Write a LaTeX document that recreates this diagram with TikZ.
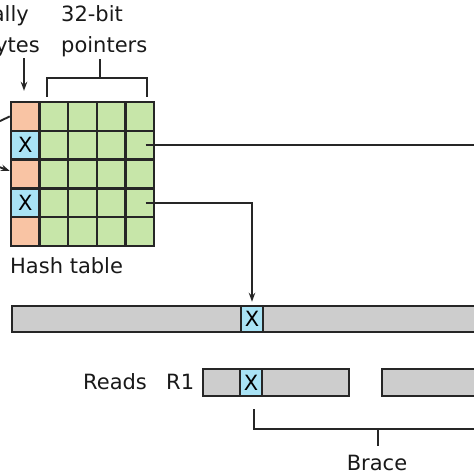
\documentclass[tikz,border=0pt]{standalone}
\usepackage{fontspec}
\setmainfont{DejaVu Sans}
\usetikzlibrary{arrows,arrows.meta,positioning}
\definecolor{keycolor}{HTML}{F9C4A4}
\definecolor{ptrcolor}{HTML}{C7E6A9}
\definecolor{hitcolor}{HTML}{A9E3F5}
\definecolor{readcolor}{HTML}{CDCDCD}
\definecolor{gridline}{HTML}{262626}
\tikzset
{
    cell/.style    = {rectangle, draw=gridline, line width=2.4pt, minimum width=28.6pt, minimum height=28.8pt, inner sep=0pt},
    keycell/.style = {cell, fill=keycolor},
    hitcell/.style = {cell, fill=hitcolor},
    ptrcell/.style = {cell, fill=ptrcolor},
    seqbar/.style  = {rectangle, draw=gridline, line width=2pt, fill=readcolor, minimum height=26.5pt, inner sep=0pt},
    hitbox/.style  = {rectangle, draw=gridline, line width=2pt, fill=hitcolor, minimum width=22pt, minimum height=26.5pt, inner sep=0pt},
    txt/.style     = {inner sep=0pt, text=black!90},
    link/.style    = {line width=1.9pt, draw=gridline},
    arrow/.style   = {link, ->, >={Stealth[length=9pt, width=6.5pt]}}
}

\begin{document}
\begin{tikzpicture}[x=1pt, y=-1pt, font=\fontsize{21}{25}\selectfont]
   \useasboundingbox (0,0) rectangle (474,474);

	 \newcommand\CELLX{28.6}
	 \newcommand\CELLY{28.8}

	 % hash table
	 \node (k1) [keycell] at (25.3, 116.4)                       {};
	 \node (k2) [hitcell] at ([shift=({0, \CELLY})]k1)           {X};
	 \node (k3) [keycell] at ([shift=({0, \CELLY})]k2)           {};
	 \node (k4) [hitcell] at ([shift=({0, \CELLY})]k3)           {X};
	 \node (k5) [keycell] at ([shift=({0, \CELLY})]k4)           {};
	 \foreach \r in {1,...,5}
	    \foreach \c in {1,...,4}
	       \node (p\r\c) [ptrcell] at ([shift=({\c*\CELLX, 0})]k\r) {};

	 \node (ally)  [txt, anchor=base east] at (29, 21)   {ally};
	 \node (ytes)  [txt, anchor=base east] at (40, 52)   {ytes};
	 \node (bits)  [txt, anchor=base west] at (61, 21)   {32-bit};
	 \node (ptrs)  [txt, anchor=base west] at (61, 52)   {pointers};
	 \node (hash)  [txt, anchor=base west] at (10, 273)  {Hash table};

	 % sequences
	 \node (genome) [seqbar, minimum width=478pt] at (251, 319)   {};
	 \node (gx)     [hitbox]                      at (252, 319)   {X};
	 \node (r1)     [seqbar, minimum width=146pt] at (276, 382.5) {};
	 \node (r1x)    [hitbox]                      at (251, 382.5) {X};
	 \node (r2)     [seqbar, minimum width=108pt] at (436, 382.5) {};

	 \node (reads) [txt, anchor=base west] at (83, 389)  {Reads};
	 \node (rname) [txt, anchor=base west] at (166, 389) {R1};
	 \node (brace) [txt, anchor=base]      at (377, 470) {Brace};

	 \coordinate (srca)   at (-2, 122);
	 \coordinate (srcb)   at (-6, 165);
	 \coordinate (ktop)   at (24, 58);
	 \coordinate (ptrend) at (490, 145.2);

	 % brackets
	 \draw[link] (47.3, 96.7) -- (47.3, 77.7) -- (147, 77.7) -- (147, 96.7)
	             (100, 77.7) -- (100, 59);
	 \draw[link] (254, 409) -- (254, 429) -- (490, 429)
	             (378, 429) -- (378, 446);

	 \draw[link]  (srca) -- (k1.west);
	 \draw[arrow] (srcb) -- ([yshift=3pt]k3.west);
	 \draw[arrow, shorten >=10pt] (ktop) -- (ktop |- k1.north);
	 \draw[link]  ([xshift=6pt]p24.center) -- (ptrend);
	 \draw[arrow] ([xshift=6pt]p44.center) -| ([yshift=3pt]gx.north);
\end{tikzpicture}
\end{document}
